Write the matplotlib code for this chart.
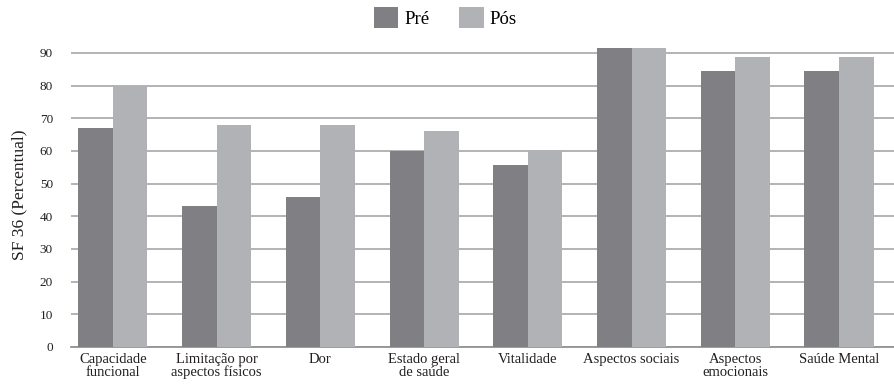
import matplotlib.pyplot as plt
import numpy as np

categories = ["Capacidade\nfuncional", "Limitação por\naspectos físicos", "Dor",
              "Estado geral\nde saúde", "Vitalidade", "Aspectos sociais",
              "Aspectos\nemocionais", "Saúde Mental"]
pre = [67, 43.1, 45.9, 60, 55.7, 91.6, 84.4, 84.4]
pos = [80, 68, 68, 66, 60.2, 91.6, 88.8, 88.8]
yticks = [0, 10, 20, 30, 40, 50, 60, 70, 80, 90]

plt.rcParams['font.family'] = ['Liberation Serif', 'DejaVu Serif']

fig = plt.figure(figsize=(8.94, 3.89), dpi=100)
ax = fig.add_axes([0.0794, 0.108, 0.9206, 0.781])

x = np.arange(len(categories))
w = 0.333
ax.bar(x - w/2, pre, w, color="#808084", label="Pré", zorder=3)
ax.bar(x + w/2, pos, w, color="#b1b2b6", label="Pós", zorder=3)

ax.set_xlim(-0.404, 7.53)
ax.set_ylim(0, 93)
ax.set_yticks(yticks)
ax.set_xticks(x)
ax.set_xticklabels(categories, fontsize=10.5, color="#231f20", linespacing=1.0)
ax.tick_params(axis="both", length=0, colors="#231f20")
ax.tick_params(axis="x", labelsize=10.5, pad=4)
ax.tick_params(axis="y", labelsize=9.5, pad=13)
ax.yaxis.grid(True, color="#a7a7a9", linewidth=1.2, zorder=0)
for s in ["top", "right", "left"]:
    ax.spines[s].set_visible(False)
ax.spines["bottom"].set_color("#939395")
ax.spines["bottom"].set_linewidth(1.3)
ax.set_ylabel("SF 36 (Percentual)", fontsize=12.5, color="#231f20", labelpad=9)

fig.legend(loc="upper center", bbox_to_anchor=(0.498, 1.025), ncol=2, frameon=False,
           fontsize=13.5, handlelength=1.3, handleheight=1.3, columnspacing=1.6,
           handletextpad=0.3)

fig.savefig("out.png", dpi=100)
